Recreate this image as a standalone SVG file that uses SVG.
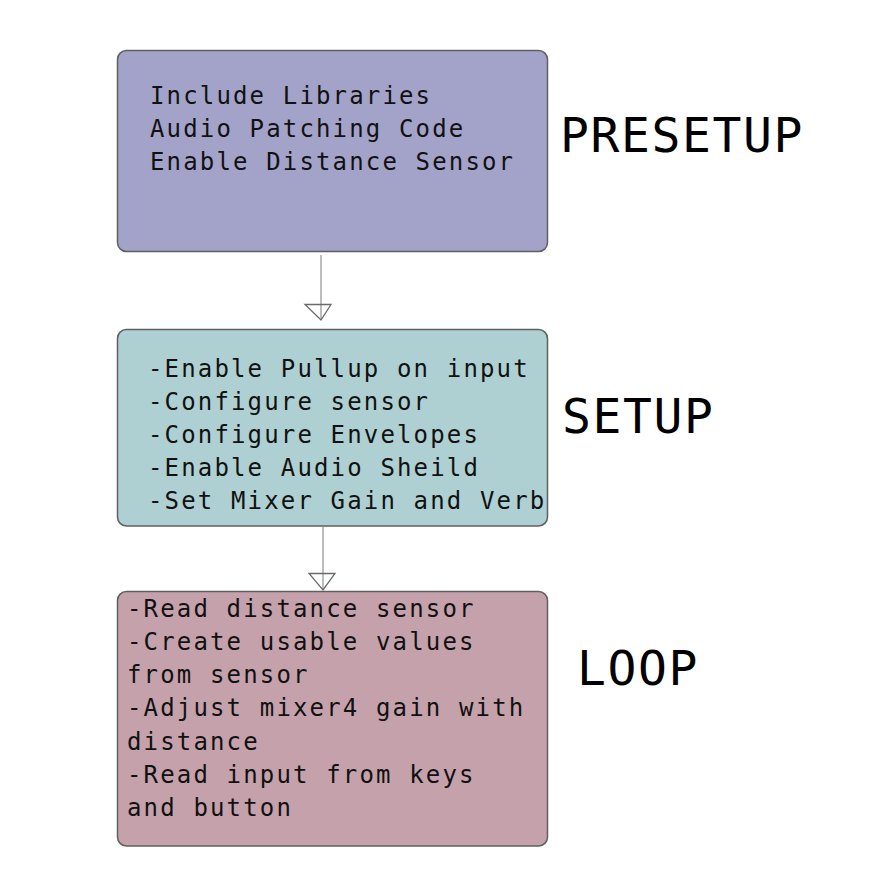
<svg xmlns="http://www.w3.org/2000/svg" width="870" height="878" viewBox="0 0 870 878">
<style>
.box{stroke:#5f5f5f;stroke-width:1.5}
.t{font-family:"DejaVu Sans Mono",monospace;font-size:24px;letter-spacing:2.15px;fill:#111}
.big{font-family:"DejaVu Sans Mono",monospace;font-size:48px;letter-spacing:1.6px;fill:#000}
.ln{stroke:#bdbdbd;stroke-width:2;fill:none}
.ah{stroke:#6a6a6a;stroke-width:1.3;fill:none}
</style>
<rect width="870" height="878" fill="#fff"/>
<g id="connectors">
<line class="ln" x1="321" y1="255" x2="321" y2="320"/>
<polygon class="ah" points="305,304.5 331,304.5 321,320"/>
<line class="ln" x1="323" y1="527" x2="323" y2="590"/>
<polygon class="ah" points="309,573.5 335,573.5 323,590"/>
</g>
<g id="presetup">
<rect class="box" x="117.5" y="50.5" width="430" height="201" rx="9" fill="#a3a3c9"/>
<text class="t" x="150" y="103.5">Include Libraries</text>
<text class="t" x="150" y="136.5">Audio Patching Code</text>
<text class="t" x="150" y="169.5">Enable Distance Sensor</text>
<text class="big" x="560" y="152">PRESETUP</text>
</g>
<g id="setup">
<rect class="box" x="117.5" y="329.5" width="430" height="196.5" rx="9" fill="#aed0d2"/>
<text class="t" x="148" y="377">-Enable Pullup on input</text>
<text class="t" x="148" y="410">-Configure sensor</text>
<text class="t" x="148" y="443">-Configure Envelopes</text>
<text class="t" x="148" y="476">-Enable Audio Sheild</text>
<text class="t" x="148" y="509">-Set Mixer Gain and Verb</text>
<text class="big" x="562" y="433">SETUP</text>
</g>
<g id="loop">
<rect class="box" x="117.5" y="591.5" width="430" height="254.5" rx="9" fill="#c5a2ab"/>
<text class="t" x="127" y="617">-Read distance sensor</text>
<text class="t" x="127" y="650">-Create usable values</text>
<text class="t" x="127" y="683">from sensor</text>
<text class="t" x="127" y="716">-Adjust mixer4 gain with</text>
<text class="t" x="127" y="750">distance</text>
<text class="t" x="127" y="783">-Read input from keys</text>
<text class="t" x="127" y="816">and button</text>
<text class="big" x="577" y="685">LOOP</text>
</g>
</svg>
